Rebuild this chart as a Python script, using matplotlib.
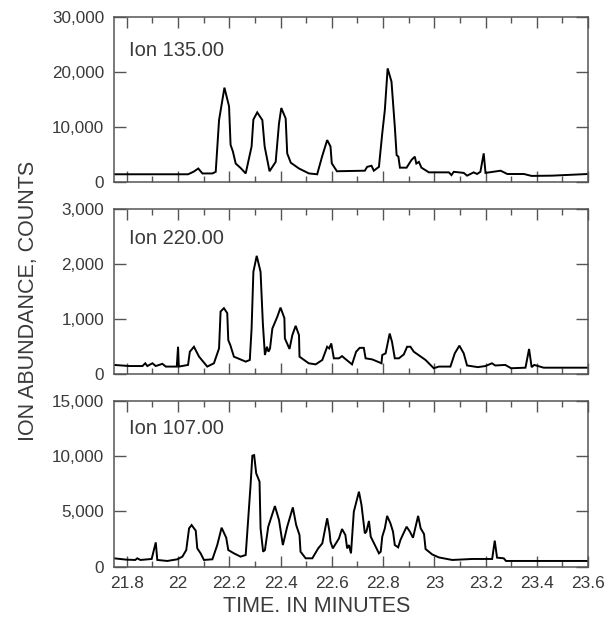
import matplotlib
matplotlib.use("Agg")
import matplotlib.pyplot as plt
from matplotlib.ticker import MultipleLocator, FuncFormatter

plt.rcParams['font.family'] = ['Liberation Sans', 'DejaVu Sans']

# ---- data ----
t135 = [21.75, 22.039, 22.06, 22.079, 22.095, 22.134, 22.147, 22.16, 22.181, 22.199, 22.205, 22.214,
        22.225, 22.244, 22.264, 22.287, 22.294, 22.309, 22.329, 22.338, 22.357, 22.381, 22.394, 22.403,
        22.420, 22.426, 22.44, 22.472, 22.511, 22.543, 22.562, 22.582, 22.595, 22.60, 22.62, 22.729,
        22.738, 22.755, 22.764, 22.784, 22.797, 22.807, 22.818, 22.833, 22.846, 22.853, 22.86, 22.866,
        22.892, 22.911, 22.924, 22.93, 22.94, 22.95, 22.979, 23.057, 23.067, 23.076, 23.115, 23.128,
        23.154, 23.167, 23.18, 23.193, 23.20, 23.259, 23.285, 23.35, 23.38, 23.46, 23.60]
v135 = [1350, 1350, 1800, 2400, 1500, 1500, 1800, 11200, 17100, 13700, 6700, 5500,
        3300, 2500, 1500, 6400, 11300, 12600, 11200, 6400, 1900, 3600, 10600, 13400,
        11500, 5150, 3450, 2400, 1500, 1350, 4550, 7570, 6400, 3340, 1900, 2000,
        2700, 2900, 2000, 2700, 8800, 13000, 20600, 18200, 10000, 4850, 4550, 2550,
        2550, 3950, 4550, 3300, 3600, 2550, 1700, 1700, 1200, 1800, 1600, 1100,
        1700, 1400, 1800, 5150, 1600, 2000, 1400, 1400, 1050, 1100, 1400]

t220 = [21.75, 21.81, 21.861, 21.872, 21.88, 21.9, 21.913, 21.939, 21.952, 21.995, 22.0, 22.003,
        22.039, 22.046, 22.062, 22.082, 22.114, 22.14, 22.16, 22.166, 22.179, 22.192, 22.196, 22.204,
        22.218, 22.264, 22.28, 22.287, 22.294, 22.307, 22.322, 22.331, 22.339, 22.347, 22.353, 22.359,
        22.368, 22.387, 22.40, 22.415, 22.417, 22.435, 22.446, 22.459, 22.472, 22.474, 22.51, 22.537,
        22.563, 22.582, 22.59, 22.598, 22.608, 22.628, 22.64, 22.65, 22.679, 22.695, 22.709, 22.725,
        22.732, 22.758, 22.794, 22.797, 22.81, 22.826, 22.835, 22.846, 22.862, 22.881, 22.894, 22.907,
        22.92, 22.966, 22.998, 23.018, 23.063, 23.08, 23.098, 23.115, 23.128, 23.17, 23.20, 23.225,
        23.238, 23.277, 23.3, 23.356, 23.37, 23.38, 23.39, 23.427, 23.60]
v220 = [170, 150, 150, 200, 150, 200, 150, 190, 140, 140, 500, 140,
        170, 410, 500, 320, 140, 200, 470, 1140, 1200, 1110, 620, 530,
        320, 230, 260, 830, 1860, 2150, 1860, 920, 350, 500, 410, 470,
        830, 1040, 1210, 1020, 650, 460, 710, 880, 710, 320, 200, 180,
        260, 500, 470, 560, 290, 290, 330, 290, 180, 410, 480, 480,
        290, 270, 200, 350, 380, 740, 590, 290, 290, 360, 500, 500,
        410, 260, 110, 140, 140, 380, 520, 380, 160, 130, 150, 200,
        160, 170, 110, 120, 460, 130, 170, 120, 120]

t107 = [21.75, 21.797, 21.833, 21.841, 21.853, 21.897, 21.913, 21.919, 21.958, 21.997, 22.017, 22.032,
        22.043, 22.053, 22.069, 22.075, 22.088, 22.101, 22.134, 22.153, 22.17, 22.188, 22.196, 22.218,
        22.244, 22.264, 22.274, 22.283, 22.29, 22.297, 22.305, 22.318, 22.322, 22.332, 22.339, 22.352,
        22.378, 22.394, 22.409, 22.426, 22.448, 22.461, 22.474, 22.478, 22.498, 22.524, 22.547, 22.563,
        22.582, 22.591, 22.595, 22.604, 22.628, 22.64, 22.653, 22.66, 22.667, 22.675, 22.686, 22.706,
        22.716, 22.729, 22.735, 22.745, 22.752, 22.765, 22.784, 22.791, 22.797, 22.807, 22.816, 22.829,
        22.839, 22.846, 22.859, 22.868, 22.878, 22.892, 22.905, 22.917, 22.937, 22.947, 22.96, 22.966,
        22.992, 23.018, 23.07, 23.148, 23.226, 23.236, 23.245, 23.271, 23.28, 23.60]
v107 = [760, 640, 610, 760, 610, 700, 2200, 610, 520, 670, 910, 1510,
        3470, 3770, 3260, 1660, 1210, 610, 670, 1960, 3530, 2620, 1510, 1210,
        910, 1060, 4380, 7400, 10050, 10100, 8450, 7700, 3470, 1360, 1510, 3620,
        5490, 4230, 1960, 3620, 5370, 3770, 2870, 1360, 760, 760, 1660, 2110,
        4380, 3170, 2260, 1660, 2560, 3410, 2870, 1660, 1960, 1210, 4980, 6790,
        5580, 3020, 3170, 4140, 2720, 2110, 1210, 1360, 2720, 3470, 4600, 3920,
        3170, 1960, 1750, 2420, 2930, 3620, 3170, 2620, 4600, 3470, 2960, 1600,
        1110, 840, 610, 700, 700, 2360, 820, 760, 520, 520]

ion_labels = ["Ion 135.00", "Ion 220.00", "Ion 107.00"]
y_max = [30000, 3000, 15000]
y_step = [10000, 1000, 5000]
x_tick_labels = ["21.8", "22", "22.2", "22.4", "22.6", "22.8", "23", "23.2", "23.4", "23.6"]
x_label = "TIME. IN MINUTES"
y_label = "ION ABUNDANCE, COUNTS"

series = [(t135, v135), (t220, v220), (t107, v107)]

# ---- layout ----
W, H = 608, 623
fig = plt.figure(figsize=(W / 100, H / 100), dpi=100)
text_col = '#3a3a3a'
frame_col = '#555555'

panel_px = [(16.7, 181.7), (209, 374.3), (401, 566.7)]
label_y = [0.798, 0.823, 0.835]
left_px, right_px = 114, 588

for i, ((tt, vv), (top, bot)) in enumerate(zip(series, panel_px)):
    ax = fig.add_axes([left_px / W, 1 - bot / H, (right_px - left_px) / W, (bot - top) / H])
    ax.plot(tt, vv, color='black', lw=1.4, solid_joinstyle='miter')
    ax.set_xlim(21.75, 23.6)
    ax.set_ylim(0, y_max[i])
    ax.xaxis.set_major_locator(MultipleLocator(0.2))
    ax.xaxis.set_minor_locator(MultipleLocator(0.1))
    ax.yaxis.set_major_locator(MultipleLocator(y_step[i]))
    ax.yaxis.set_major_formatter(FuncFormatter(lambda v, p: f"{int(round(v)):,}"))
    ax.tick_params(axis='x', which='major', direction='in', length=8, width=1.0,
                   top=True, bottom=True, color=frame_col, labelsize=12.5,
                   labelcolor=text_col, pad=7)
    ax.tick_params(axis='x', which='minor', direction='in', length=4.5, width=1.0,
                   top=True, bottom=True, color=frame_col)
    ax.tick_params(axis='y', which='major', direction='in', length=8.5, width=1.0,
                   left=True, right=True, color=frame_col, labelsize=12.3,
                   labelcolor=text_col, pad=7)
    if i < 2:
        ax.tick_params(axis='x', labelbottom=False)
    else:
        ax.set_xticks([21.8 + 0.2 * k for k in range(len(x_tick_labels))])
        ax.set_xticklabels(x_tick_labels)
    for sp in ax.spines.values():
        sp.set_color(frame_col)
        sp.set_linewidth(1.1)
    ax.text(0.032, label_y[i], ion_labels[i], transform=ax.transAxes,
            fontsize=14.5, color=text_col, ha='left', va='center')

fig.text(317 / W, 1 - 606 / H, x_label, ha='center', va='center', fontsize=15.5, color=text_col)
fig.text(29 / W, 1 - 301 / H, y_label, ha='center', va='center', rotation=90,
         fontsize=15.5, color=text_col)

fig.savefig("out.png", dpi=100, facecolor='white')
